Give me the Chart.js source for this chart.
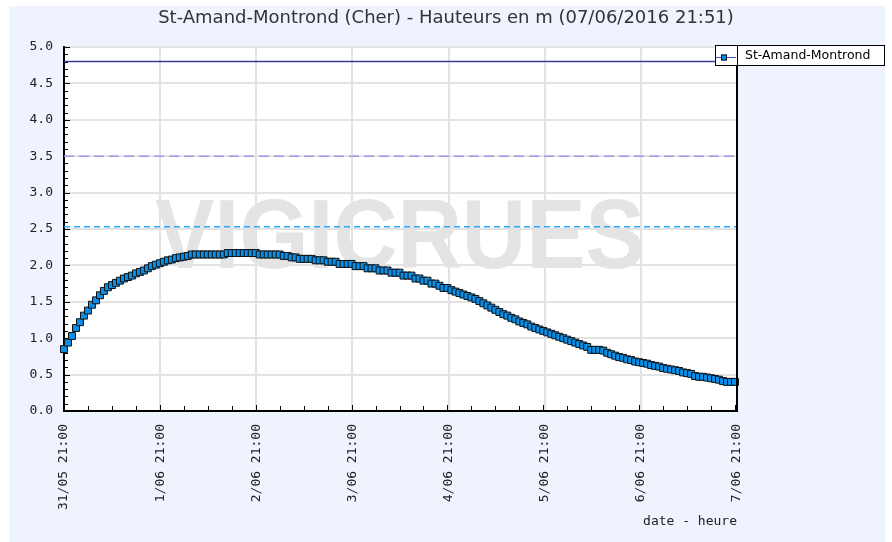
<!DOCTYPE html>
<html><head><meta charset="utf-8">
<script src="https://cdn.jsdelivr.net/npm/chart.js@4/dist/chart.umd.min.js"></script>
<style>html,body{margin:0;padding:0;background:#fff}#wrap{width:892px;height:542px;position:relative}</style>
</head><body><div id="wrap"><canvas id="c" width="892" height="542"></canvas></div>
<script>
// ---- data ----
const chartTitle = 'St-Amand-Montrond (Cher) - Hauteurs en m (07/06/2016 21:51)';
const seriesName = 'St-Amand-Montrond';
const xAxisTitle = 'date - heure';
const dayTickLabels = ['31/05 21:00','1/06 21:00','2/06 21:00','3/06 21:00','4/06 21:00','5/06 21:00','6/06 21:00','7/06 21:00'];
// hourly readings (m) from 31/05 21:00 to 07/06 21:00
const levels = [
0.85,0.94,1.03,1.14,1.22,1.31,1.38,1.46,1.52,1.59,
1.65,1.70,1.73,1.76,1.79,1.82,1.84,1.86,1.89,1.91,
1.93,1.96,1.99,2.01,2.03,2.05,2.07,2.08,2.10,2.11,
2.12,2.13,2.15,2.15,2.15,2.15,2.15,2.15,2.15,2.15,
2.15,2.17,2.17,2.17,2.17,2.17,2.17,2.17,2.17,2.15,
2.15,2.15,2.15,2.15,2.15,2.13,2.13,2.11,2.11,2.09,
2.09,2.09,2.09,2.07,2.07,2.07,2.05,2.05,2.05,2.02,
2.02,2.02,2.02,1.99,1.99,1.99,1.96,1.96,1.96,1.93,
1.93,1.93,1.90,1.90,1.90,1.86,1.86,1.86,1.82,1.82,
1.79,1.79,1.75,1.75,1.72,1.69,1.69,1.66,1.64,1.62,
1.60,1.58,1.56,1.54,1.51,1.48,1.45,1.42,1.39,1.36,
1.33,1.31,1.28,1.26,1.23,1.21,1.19,1.16,1.14,1.12,
1.10,1.08,1.06,1.04,1.02,1.00,0.98,0.96,0.94,0.92,
0.90,0.88,0.84,0.84,0.84,0.83,0.80,0.78,0.76,0.74,
0.73,0.71,0.70,0.68,0.67,0.66,0.65,0.63,0.62,0.61,
0.59,0.58,0.57,0.56,0.55,0.53,0.52,0.51,0.48,0.47,
0.47,0.46,0.45,0.44,0.43,0.41,0.40,0.40,0.40
];
const thresholdLevels = [4.8, 3.5, 2.53];
const yTickValues = [0,0.5,1,1.5,2,2.5,3,3.5,4,4.5,5];

// ---- styles ----
const BG = '#eef3fd';
const GRID = '#e3e3e3';
const thresholdStyles = [
  {color:'#3a3a8e', dash:[]},
  {color:'#9a9aee', dash:[10,5]},
  {color:'#2aa6ff', dash:[6,4]}
];

const hoursSpan = (dayTickLabels.length - 1) * 24;
const mainData = levels.map((v,i)=>({x:i, y:v}));
const datasets = [{
  label: seriesName,
  data: mainData,
  borderColor: '#101030',
  borderWidth: 1,
  pointStyle: 'rect',
  pointRadius: 4.9,
  pointHoverRadius: 4.9,
  pointBackgroundColor: '#0a8fe8',
  pointBorderColor: '#111',
  pointBorderWidth: 1,
  clip: 10,
  order: 0
}];
thresholdLevels.forEach((lv, k) => {
  datasets.push({
    label: 'seuil' + k,
    data: [{x:0, y:lv}, {x:hoursSpan + 0.5, y:lv}],
    borderColor: thresholdStyles[k].color,
    borderDash: thresholdStyles[k].dash,
    borderWidth: 1.4,
    pointRadius: 0,
    order: 5
  });
});

const bgPlugin = {
  id: 'bg',
  beforeDraw(chart) {
    const {ctx, chartArea: a} = chart;
    ctx.save();
    ctx.fillStyle = '#ffffff';
    ctx.fillRect(0, 0, chart.width, chart.height);
    ctx.fillStyle = BG;
    ctx.fillRect(9, 6, 876, 536);
    ctx.fillStyle = '#ffffff';
    ctx.fillRect(a.left, a.top, a.right - a.left, a.bottom - a.top);
    // watermark
    ctx.save();
    ctx.beginPath();
    ctx.rect(a.left, a.top, a.right - a.left, a.bottom - a.top);
    ctx.clip();
    ctx.fillStyle = '#e4e4e4';
    ctx.font = 'bold 99px "Liberation Sans"';
    const txt = 'VIGICRUES';
    const w = ctx.measureText(txt).width;
    const targetW = 490;
    const cx = 400, base = 268;
    ctx.translate(cx - targetW / 2, base);
    ctx.scale(targetW / w, 1);
    ctx.textBaseline = 'alphabetic';
    ctx.fillText(txt, 0, 0);
    ctx.restore();
    ctx.restore();
  },
  beforeDatasetsDraw(chart) {
    const {ctx, chartArea: a, scales: {x, y}} = chart;
    ctx.save();
    ctx.strokeStyle = '#000';
    ctx.lineWidth = 1;
    ctx.beginPath();
    // y minor ticks every 0.1
    for (let k = 0; k <= 50; k++) {
      const py = Math.round(y.getPixelForValue(k / 10)) + 0.5;
      const len = (k % 5 === 0) ? 6 : 4;
      ctx.moveTo(a.left, py);
      ctx.lineTo(a.left + len, py);
    }
    // x minor ticks every 6 hours
    for (let h = 0; h <= hoursSpan; h += 6) {
      const px = Math.round(x.getPixelForValue(h)) + 0.5;
      const len = (h % 24 === 0) ? 6 : 5;
      ctx.moveTo(px, a.bottom);
      ctx.lineTo(px, a.bottom - len);
    }
    ctx.stroke();
    ctx.restore();
  },
  afterDraw(chart) {
    const {ctx, chartArea: a} = chart;
    ctx.save();
    // right border
    ctx.strokeStyle = '#000';
    ctx.lineWidth = 2;
    ctx.beginPath();
    ctx.moveTo(a.right, a.top - 2);
    ctx.lineTo(a.right, a.bottom);
    ctx.stroke();
    // legend
    const lx = a.right - 22, ly = a.top - 2, lw = 169, lh = 20;
    ctx.fillStyle = '#fff';
    ctx.fillRect(lx, ly, lw, lh);
    ctx.lineWidth = 1;
    ctx.strokeStyle = '#000';
    ctx.strokeRect(lx + 0.5, ly + 0.5, lw, lh);
    ctx.beginPath();
    ctx.moveTo(a.right + 0.5, ly);
    ctx.lineTo(a.right + 0.5, ly + lh);
    ctx.stroke();
    const my = ly + 12.5;
    ctx.strokeStyle = '#4b4bc8';
    ctx.beginPath();
    ctx.moveTo(lx + 1, my);
    ctx.lineTo(a.right - 1, my);
    ctx.stroke();
    ctx.fillStyle = '#0a8fe8';
    ctx.fillRect(lx + 6, my - 3, 6, 6);
    ctx.strokeStyle = '#111';
    ctx.strokeRect(lx + 6.5, my - 2.5, 5, 5);
    ctx.fillStyle = '#000';
    ctx.font = '12.5px "DejaVu Sans"';
    ctx.textBaseline = 'middle';
    ctx.textAlign = 'left';
    ctx.fillText(chart.data.datasets[0].label, a.right + 8, ly + lh / 2 + 1);
    ctx.restore();
  }
};

const chart = new Chart(document.getElementById('c'), {
  type: 'line',
  data: {datasets},
  options: {
    responsive: false,
    animation: false,
    events: [],
    layout: {padding: 0},
    plugins: {
      legend: {display: false},
      tooltip: {enabled: false},
      title: {
        display: true,
        text: chartTitle,
        color: '#333',
        font: {family: '"DejaVu Sans"', size: 18, weight: 'normal'},
        padding: {top: 8, bottom: 17.4}
      }
    },
    scales: {
      x: {
        type: 'linear',
        min: 0,
        max: hoursSpan + 0.5,
        afterFit(s) { s.height = 131; },
        ticks: {
          stepSize: 24,
          includeBounds: false,
          autoSkip: false,
          maxRotation: 90,
          minRotation: 90,
          padding: 13,
          color: '#222',
          font: {family: '"DejaVu Sans Mono"', size: 13},
          callback: (v) => dayTickLabels[Math.round(v / 24)]
        },
        grid: {color: GRID, lineWidth: 2, drawTicks: false},
        border: {display: true, color: '#000', width: 2},
        title: {
          display: true,
          text: xAxisTitle,
          align: 'end',
          color: '#222',
          font: {family: '"DejaVu Sans Mono"', size: 13},
          padding: {top: 0, bottom: 13}
        }
      },
      y: {
        type: 'linear',
        min: 0,
        max: 5,
        afterFit(s) { s.width = 64; },
        afterBuildTicks(s) { s.ticks = yTickValues.map(v => ({value: v})); },
        ticks: {
          padding: 11,
          color: '#222',
          font: {family: '"DejaVu Sans Mono"', size: 13},
          callback: (v) => Number(v).toFixed(1)
        },
        grid: {color: GRID, lineWidth: 2, drawTicks: false},
        border: {display: true, color: '#000', width: 2}
      },
      yR: {
        type: 'linear',
        position: 'right',
        display: true,
        afterFit(s) { s.width = 155; },
        ticks: {display: false},
        grid: {display: false, drawTicks: false},
        border: {display: false}
      }
    }
  },
  plugins: [bgPlugin]
});
</script>
</body></html>
